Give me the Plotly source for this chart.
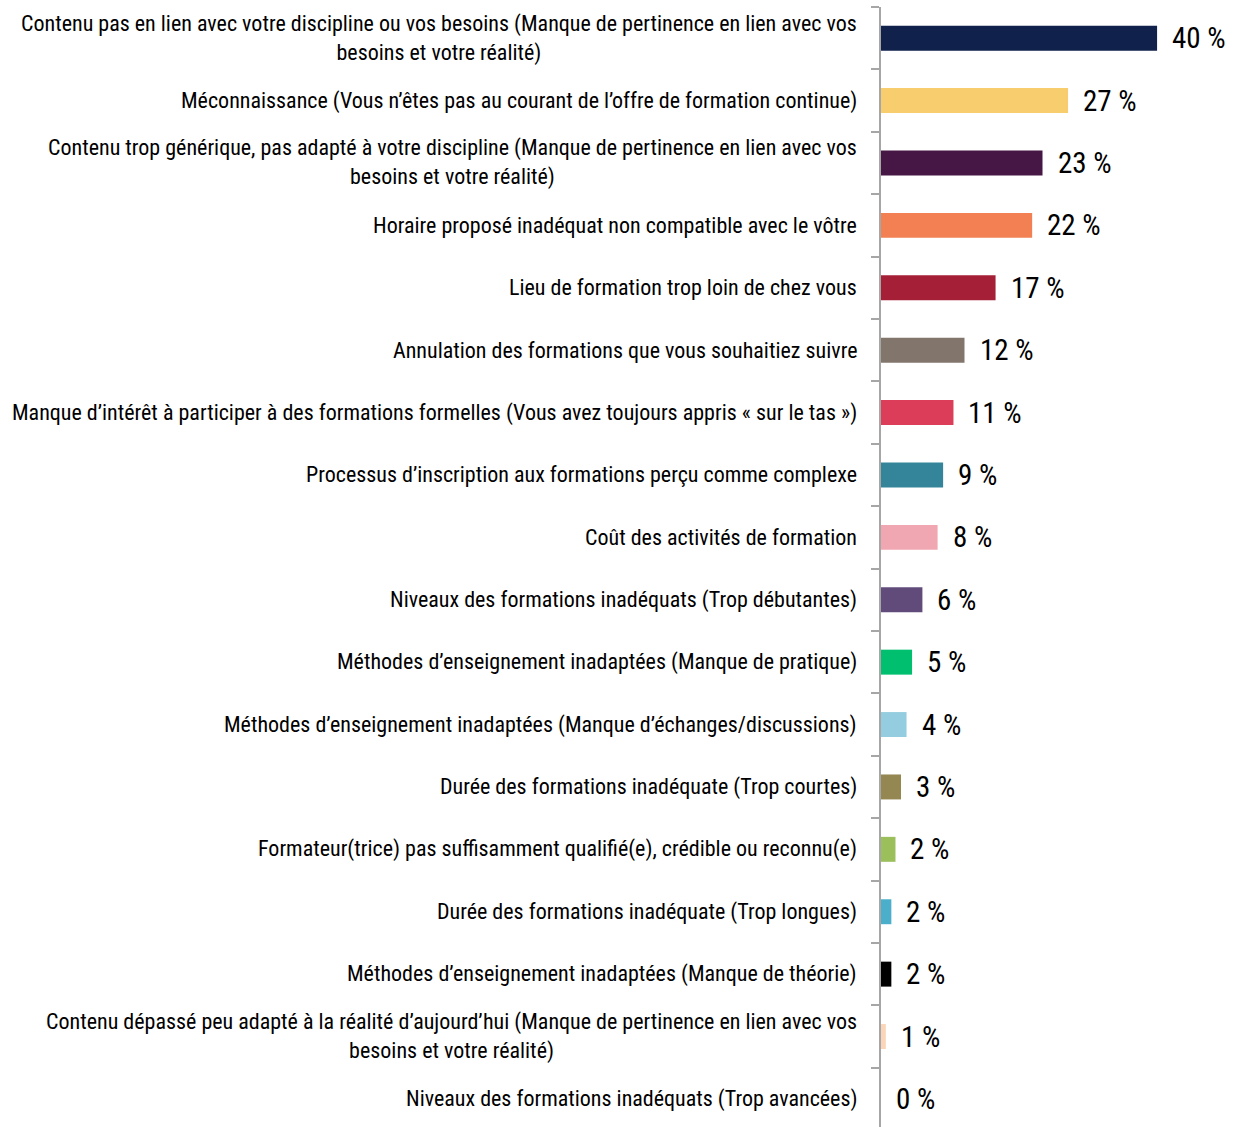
import plotly.graph_objects as go

categories = [
    "Contenu pas en lien avec votre discipline ou vos besoins (Manque de pertinence en lien avec vos<br>besoins et votre réalité)",
    "Méconnaissance (Vous n’êtes pas au courant de l’offre de formation continue)",
    "Contenu trop générique, pas adapté à votre discipline (Manque de pertinence en lien avec vos<br>besoins et votre réalité)",
    "Horaire proposé inadéquat non compatible avec le vôtre",
    "Lieu de formation trop loin de chez vous",
    "Annulation des formations que vous souhaitiez suivre",
    "Manque d’intérêt à participer à des formations formelles (Vous avez toujours appris « sur le tas »)",
    "Processus d’inscription aux formations perçu comme complexe",
    "Coût des activités de formation",
    "Niveaux des formations inadéquats (Trop débutantes)",
    "Méthodes d’enseignement inadaptées (Manque de pratique)",
    "Méthodes d’enseignement inadaptées (Manque d’échanges/discussions)",
    "Durée des formations inadéquate (Trop courtes)",
    "Formateur(trice) pas suffisamment qualifié(e), crédible ou reconnu(e)",
    "Durée des formations inadéquate (Trop longues)",
    "Méthodes d’enseignement inadaptées (Manque de théorie)",
    "Contenu dépassé peu adapté à la réalité d’aujourd’hui (Manque de pertinence en lien avec vos<br>besoins et votre réalité)",
    "Niveaux des formations inadéquats (Trop avancées)",
]

values = [40, 27.1, 23.4, 21.9, 16.6, 12.1, 10.5, 9.0, 8.2, 6.0, 4.5, 3.7, 2.9, 2.1, 1.5, 1.5, 0.7, 0]

value_labels = ["40 %", "27 %", "23 %", "22 %", "17 %", "12 %", "11 %", "9 %", "8 %", "6 %",
                "5 %", "4 %", "3 %", "2 %", "2 %", "2 %", "1 %", "0 %"]

colors = ["#10214B", "#F7CD6E", "#461645", "#F28052", "#A51F37", "#82766C", "#DC3D58",
          "#348599", "#F0A7B2", "#614B7A", "#00BF6F", "#94CDDF", "#958751", "#9BBF5B",
          "#4BAFCB", "#000000", "#FBD5B9", "#FFFFFF"]

FONT = "Roboto Condensed, Liberation Sans Narrow, Arial Narrow, sans-serif"

fig = go.Figure()
fig.add_trace(go.Bar(
    x=values,
    y=categories,
    orientation="h",
    marker=dict(color=colors, line=dict(width=0)),
    hoverinfo="x+y",
))

annotations = []
for cat, v, lab in zip(categories, values, value_labels):
    annotations.append(dict(
        x=0, y=cat, xref="x", yref="y", text=cat, showarrow=False,
        xanchor="right", yanchor="middle", xshift=-22, align="center",
        font=dict(family=FONT, size=22, color="#000000"),
    ))
    annotations.append(dict(
        x=v, y=cat, xref="x", yref="y", text=lab, showarrow=False,
        xanchor="left", yanchor="middle", xshift=13,
        font=dict(family=FONT, size=29, color="#000000"),
    ))

fig.update_layout(
    width=1233, height=1127,
    margin=dict(l=881, r=0, t=7, b=0),
    paper_bgcolor="white", plot_bgcolor="white",
    bargap=0.6,
    showlegend=False,
    annotations=annotations,
    xaxis=dict(range=[0, 51], visible=False, showgrid=False, zeroline=False),
    yaxis=dict(
        type="category",
        categoryorder="array", categoryarray=categories,
        range=[17.45, -0.5],
        showticklabels=False,
        ticks="outside", tickson="boundaries", ticklen=8, tickwidth=2, tickcolor="#A6A6A6",
        showline=True, linecolor="#A6A6A6", linewidth=2,
        showgrid=False, zeroline=False,
    ),
)

fig.write_html("out.html")
